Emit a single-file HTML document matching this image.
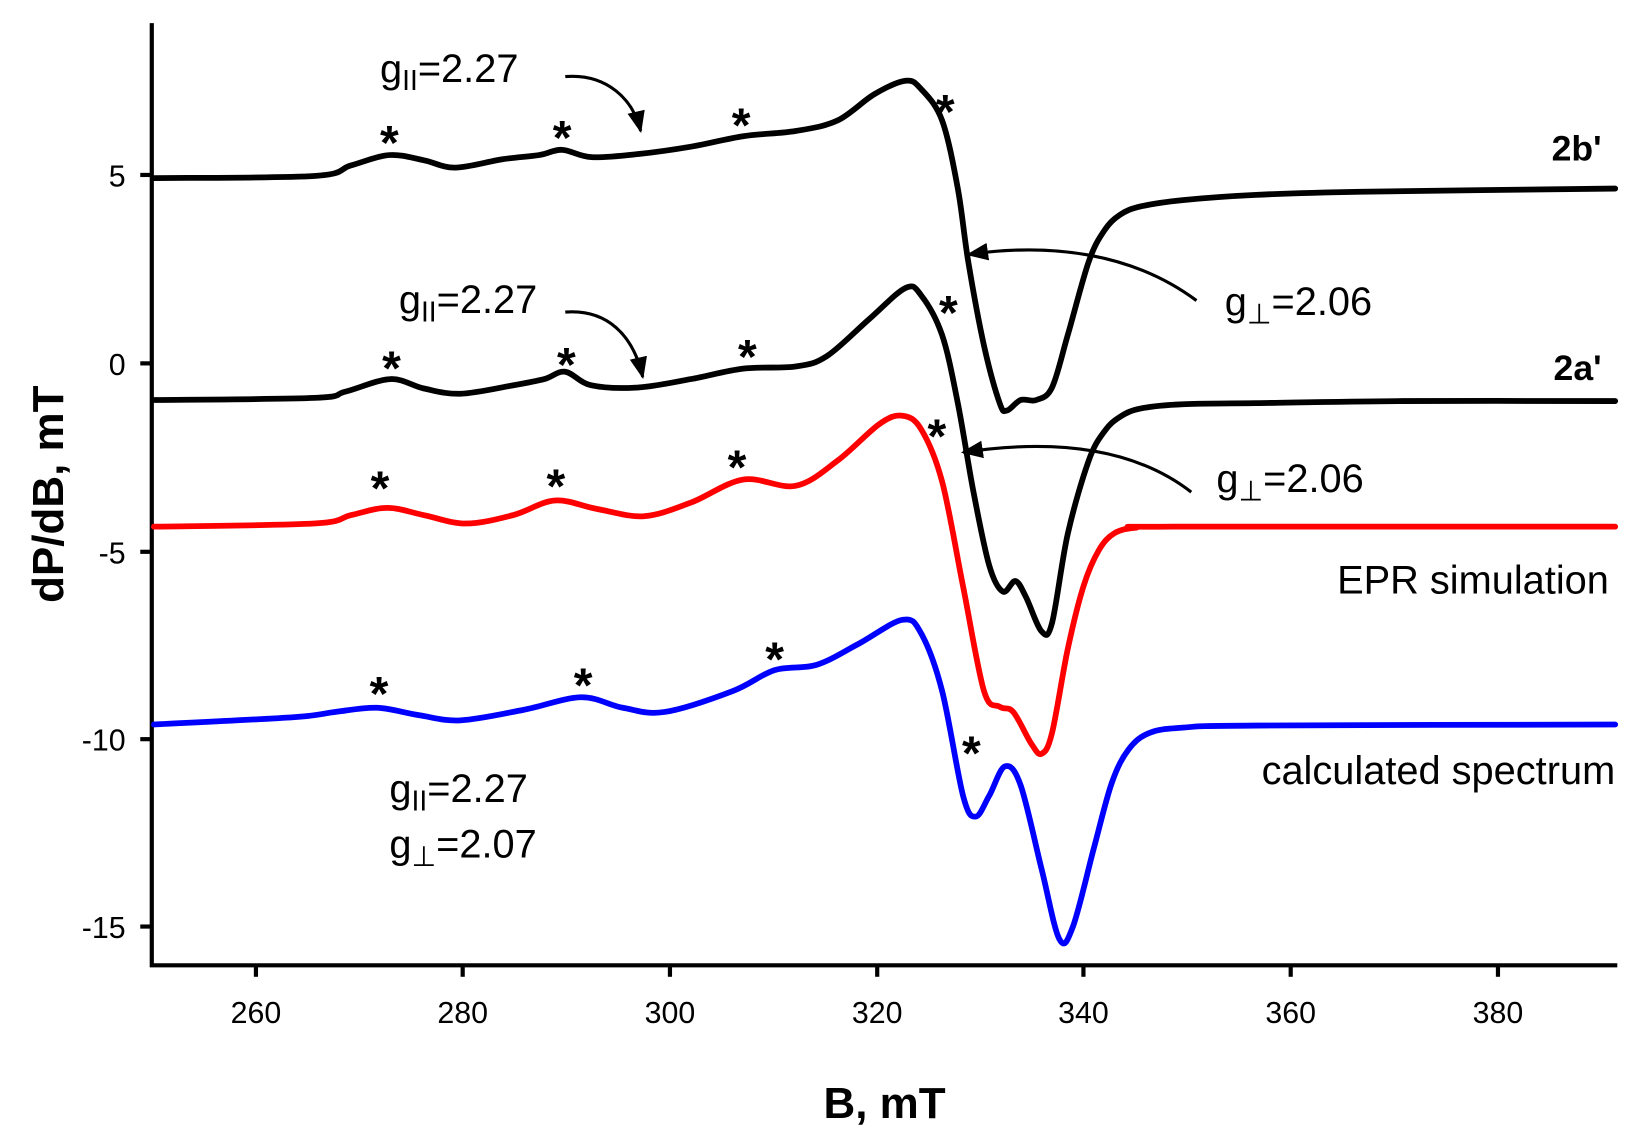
<!DOCTYPE html>
<html><head><meta charset="utf-8"><style>
html,body{margin:0;padding:0;background:#fff;}
svg{display:block;}
text{font-family:"Liberation Sans","DejaVu Sans",sans-serif;}
</style></head><body>
<svg id="s" width="1633" height="1135" viewBox="0 0 1560 1084" xmlns="http://www.w3.org/2000/svg">
<defs>
<marker id="ah" viewBox="0 0 10 10" refX="9" refY="5" markerWidth="7" markerHeight="7" orient="auto-start-reverse"><path d="M0,1 L10,5 L0,9 z" fill="#000"/></marker>
</defs>
<g stroke="#000" stroke-width="4" fill="none">
<polyline points="145,22 145,922 1545,922"/>
</g>
<g stroke="#000" stroke-width="4">
<line x1="134" y1="167" x2="145" y2="167"/>
<line x1="134" y1="347" x2="145" y2="347"/>
<line x1="134" y1="527" x2="145" y2="527"/>
<line x1="134" y1="706" x2="145" y2="706"/>
<line x1="134" y1="885" x2="145" y2="885"/>
<line x1="244.5" y1="922" x2="244.5" y2="933"/>
<line x1="442" y1="922" x2="442" y2="933"/>
<line x1="640" y1="922" x2="640" y2="933"/>
<line x1="838" y1="922" x2="838" y2="933"/>
<line x1="1035" y1="922" x2="1035" y2="933"/>
<line x1="1233" y1="922" x2="1233" y2="933"/>
<line x1="1431" y1="922" x2="1431" y2="933"/>
</g>
<g font-size="29" text-anchor="end">
<text x="120" y="178">5</text>
<text x="120" y="358">0</text>
<text x="120" y="538">-5</text>
<text x="120" y="717">-10</text>
<text x="120" y="896">-15</text>
</g>
<g font-size="29" text-anchor="middle">
<text x="244.5" y="977">260</text><text x="442" y="977">280</text><text x="640" y="977">300</text>
<text x="838" y="977">320</text><text x="1035" y="977">340</text><text x="1233" y="977">360</text><text x="1431" y="977">380</text>
</g>
<text x="845" y="1068" font-size="42" font-weight="bold" text-anchor="middle">B, mT</text>
<text transform="translate(60,472) rotate(-90)" font-size="42" font-weight="bold" text-anchor="middle">dP/dB, mT</text>

<g id="curves" fill="none" stroke-width="5.5" stroke-linejoin="round" stroke-linecap="round"></g>

<g stroke="#000" stroke-width="3" fill="none">
<path d="M540,73 C580,70 605,95 612,125" marker-end="url(#ah)"/>
<path d="M540,298 C580,295 605,320 614,360" marker-end="url(#ah)"/>
<path d="M1143,287 C1080,240 1000,232 925,243" marker-end="url(#ah)"/>
<path d="M1138,470 C1080,425 1000,420 920,432" marker-end="url(#ah)"/>
</g>

<g font-size="46" font-weight="bold" text-anchor="middle">
<text x="372" y="152">*</text><text x="537" y="147">*</text><text x="708" y="135">*</text><text x="903" y="122">*</text>
<text x="374" y="367">*</text><text x="541" y="364">*</text><text x="714" y="356">*</text><text x="906" y="314">*</text>
<text x="363" y="482">*</text><text x="531" y="480">*</text><text x="704" y="462">*</text><text x="895" y="432">*</text>
<text x="362" y="678">*</text><text x="557" y="670">*</text><text x="740" y="645">*</text><text x="928" y="735">*</text>
</g>

<g font-size="38">
<text x="363" y="78">g<tspan font-size="27" dy="8">II</tspan><tspan dy="-8">=2.27</tspan></text>
<text x="381" y="299">g<tspan font-size="27" dy="8">II</tspan><tspan dy="-8">=2.27</tspan></text>
<text x="1170" y="301">g<tspan font-size="27" dy="8">⊥</tspan><tspan dy="-8">=2.06</tspan></text>
<text x="1162" y="470">g<tspan font-size="27" dy="8">⊥</tspan><tspan dy="-8">=2.06</tspan></text>
<text x="372" y="766">g<tspan font-size="27" dy="8">II</tspan><tspan dy="-8">=2.27</tspan></text>
<text x="372" y="819">g<tspan font-size="27" dy="8">⊥</tspan><tspan dy="-8">=2.07</tspan></text>
<text x="1537" y="567" text-anchor="end">EPR simulation</text>
<text x="1543" y="749" text-anchor="end">calculated spectrum</text>
</g>
<g font-size="34" font-weight="bold" text-anchor="end">
<text x="1530" y="153">2b'</text>
<text x="1530" y="363">2a'</text>
</g>
</svg>
<script>
var data={
"#000|a":[[147,170],[300,168],[335,158],[372,148],[405,153],[435,160],[480,152],[515,148],[537,143],[565,150],[610,147],[660,140],[710,130],[760,125],[800,115],[835,90],[865,77],[880,85],[900,115],[915,180],[925,250],[940,330],[955,385],[962,392],[975,382],[990,382],[1005,370],[1020,320],[1040,250],[1055,220],[1070,205],[1090,197],[1130,191],[1200,186],[1300,183],[1543,180]],
"#000|b":[[147,382],[300,380],[330,374],[373,362],[405,371],[440,376],[490,368],[520,362],[540,355],[565,368],[610,370],[660,362],[710,352],[760,350],[790,340],[830,305],[865,275],[880,282],[900,320],[915,385],[930,470],[945,540],[958,565],[970,555],[980,570],[995,603],[1005,595],[1020,510],[1040,440],[1055,412],[1070,398],[1090,390],[1130,386],[1200,385],[1340,383],[1543,383]],
"#ff0000|c":[[147,503],[300,500],[335,492],[370,485],[405,492],[445,500],[490,492],[530,478],[570,486],[615,493],[660,480],[710,458],[760,464],[800,440],[840,405],[862,397],[880,410],[900,460],[920,560],[940,660],[955,675],[968,680],[985,710],[995,720],[1005,700],[1020,620],[1035,560],[1050,525],[1065,509],[1085,504],[1120,503],[1543,503]],
"#0000ff|d":[[147,692],[280,685],[320,680],[360,676],[400,683],[440,688],[500,678],[555,666],[595,676],[635,680],[700,660],[740,640],[780,635],[820,615],[862,592],[880,605],[900,660],[920,760],[932,780],[945,760],[960,732],[975,750],[995,830],[1012,897],[1025,885],[1045,810],[1062,748],[1078,716],[1098,700],[1130,695],[1200,693],[1543,692]]};
var g=document.getElementById("curves"),NS="http://www.w3.org/2000/svg";
for(var k in data){var p=data[k],d="M"+p[0][0]+","+p[0][1];
for(var i=0;i<p.length-1;i++){var p0=p[Math.max(i-1,0)],p1=p[i],p2=p[i+1],p3=p[Math.min(i+2,p.length-1)];
d+=" C"+(p1[0]+(p2[0]-p0[0])/6)+","+(p1[1]+(p2[1]-p0[1])/6)+" "+(p2[0]-(p3[0]-p1[0])/6)+","+(p2[1]-(p3[1]-p1[1])/6)+" "+p2[0]+","+p2[1];}
var e=document.createElementNS(NS,"path");e.setAttribute("d",d);e.setAttribute("stroke",k.split("|")[0]);g.appendChild(e);}
</script>
</body></html>
